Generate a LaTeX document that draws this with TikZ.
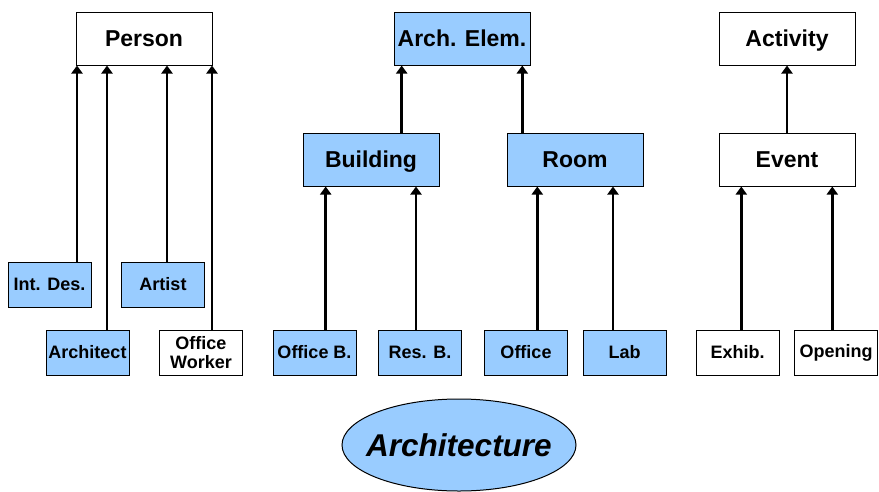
\documentclass[tikz,border=0pt]{standalone}
\usepackage{fontspec}
\setmainfont{Liberation Sans}
\usetikzlibrary{arrows.meta,shapes.geometric}
\definecolor{conceptblue}{RGB}{153,204,255}
\tikzset{
  box/.style={draw=black, line width=1pt, inner sep=0pt, align=center},
  bigbox/.style={box, minimum width=136pt, minimum height=53pt,
    text height=16.5pt, text depth=0pt,
    font=\fontsize{23}{27}\selectfont\bfseries},
  smallbox/.style={box, minimum width=83pt, minimum height=45pt,
    font=\fontsize{18}{21}\selectfont\bfseries},
  filled/.style={fill=conceptblue},
  plain/.style={fill=white},
  isa/.style={line width=2.7pt, -{Triangle[width=11pt,length=8pt]}},
}
\begin{document}
\begin{tikzpicture}[x=1pt,y=-1pt]
\useasboundingbox (0,0) rectangle (879,491);

% top level concepts
\node[bigbox,plain]  (person)   at (144,38.5) {Person};
\node[bigbox,filled] (archelem) at (462,38.5) {Arch. Elem.};
\node[bigbox,plain]  (activity) at (787,38.5) {Activity};

% middle level
\node[bigbox,filled] (building) at (371,159.5) {Building};
\node[bigbox,filled] (room)     at (575,159.5) {Room};
\node[bigbox,plain]  (event)    at (787,159.5) {Event};

% leaves
\node[smallbox,filled] (intdes)    at (49.5,284.5) {Int. Des.};
\node[smallbox,filled] (artist)    at (163,284.5)  {Artist};
\node[smallbox,filled] (architect) at (87.5,352.5) {Architect};
\node[smallbox,plain]  (offworker) at (201,352.5)  {Office\\[-2pt]Worker};
\node[smallbox,filled] (officeb)   at (314.5,352.5) {Office B.};
\node[smallbox,filled] (resb)      at (420,352.5)  {Res. B.};
\node[smallbox,filled] (office)    at (526,352.5)  {Office};
\node[smallbox,filled] (lab)       at (624.5,352.5) {Lab};
\node[smallbox,plain]  (exhib)     at (737.5,352.5) {Exhib.};
\node[smallbox,plain]  (opening)   at (836,352.5)  {Opening};

% domain ellipse
\node[ellipse, draw=black, line width=1pt, fill=conceptblue,
      minimum width=234pt, minimum height=92pt, inner sep=-20pt,
      font=\fontsize{31.5}{36}\selectfont\bfseries\itshape]
      (arch) at (459,445) {Architecture};

% is-a links
\draw[isa] ([xshift=27.5pt]intdes.north)    -- ([xshift=27.5pt]intdes.north |- person.south);
\draw[isa] ([xshift=19.5pt]architect.north) -- ([xshift=19.5pt]architect.north |- person.south);
\draw[isa] ([xshift=4pt]artist.north)       -- ([xshift=4pt]artist.north |- person.south);
\draw[isa] ([xshift=11pt]offworker.north)   -- ([xshift=11pt]offworker.north |- person.south);

\draw[isa] ([xshift=30.7pt]building.north)  -- ([xshift=30.7pt]building.north |- archelem.south);
\draw[isa] ([xshift=-52.7pt]room.north)     -- ([xshift=-52.7pt]room.north |- archelem.south);

\draw[isa] ([xshift=11.2pt]officeb.north)   -- ([xshift=11.2pt]officeb.north |- building.south);
\draw[isa] ([xshift=-4pt]resb.north)        -- ([xshift=-4pt]resb.north |- building.south);
\draw[isa] ([xshift=11.3pt]office.north)    -- ([xshift=11.3pt]office.north |- room.south);
\draw[isa] ([xshift=-11.5pt]lab.north)      -- ([xshift=-11.5pt]lab.north |- room.south);

\draw[isa] (event.north) -- (activity.south);
\draw[isa] ([xshift=3.8pt]exhib.north)      -- ([xshift=3.8pt]exhib.north |- event.south);
\draw[isa] ([xshift=-3.7pt]opening.north)   -- ([xshift=-3.7pt]opening.north |- event.south);
\end{tikzpicture}
\end{document}
